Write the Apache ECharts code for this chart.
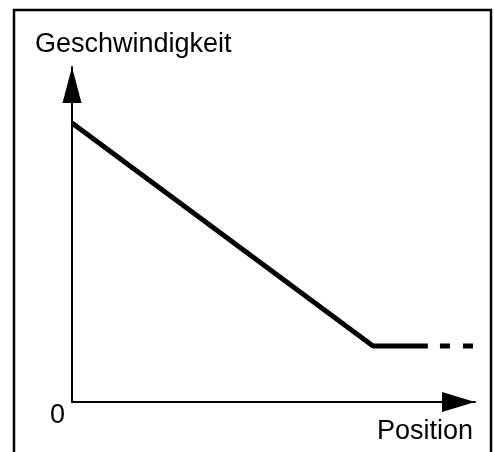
<!DOCTYPE html>
<html>
<head>
<meta charset="utf-8">
<script src="https://cdn.jsdelivr.net/npm/echarts@6/dist/echarts.min.js"></script>
<style>
  html, body { margin: 0; padding: 0; background: #fff; }
  #chart { width: 494px; height: 452px; }
</style>
</head>
<body>
<div id="chart"></div>
<script>
// Geschwindigkeit über Position (schematisch)
const solidPos = [0, 74.7, 88.3];
const solidSpeed = [83.3, 16.7, 16.7];
const dashPos = [91.3, 100];
const dashSpeed = [16.7, 16.7];
const yTicks = [0];

const font = '"Liberation Sans", Arial, sans-serif';

let chart = echarts.init(document.getElementById('chart'));

const option = {
  animation: false,
  title: {
    text: 'Geschwindigkeit',
    left: 35,
    top: 31,
    padding: 0,
    textStyle: {
      fontFamily: font,
      fontSize: 27,
      fontWeight: 'normal',
      color: '#000'
    }
  },
  grid: { left: 72, right: 19, top: 67, bottom: 50 },
  xAxis: {
    type: 'value',
    min: 0,
    max: 100,
    name: 'Position',
    nameLocation: 'end',
    nameGap: -2,
    nameTextStyle: {
      fontFamily: font,
      fontSize: 27,
      color: '#000',
      align: 'right',
      verticalAlign: 'top',
      padding: [16, 0, 0, 0]
    },
    axisLine: {
      lineStyle: { color: '#000', width: 2 },
      symbol: ['none', 'triangle'],
      symbolSize: [20, 33],
      symbolOffset: [0, -16.5]
    },
    axisTick: { show: false },
    axisLabel: { show: false },
    splitLine: { show: false }
  },
  yAxis: {
    type: 'value',
    min: 0,
    max: 100,
    interval: 100,
    axisLine: {
      show: true,
      lineStyle: { color: '#000', width: 2 },
      symbol: ['none', 'triangle'],
      symbolSize: [19, 36],
      symbolOffset: [0, -18]
    },
    axisTick: { show: false },
    axisLabel: {
      margin: 7,
      fontFamily: font,
      fontSize: 27,
      color: '#000',
      verticalAlign: 'top',
      formatter: (v) => yTicks.includes(v) ? String(v) : ''
    },
    splitLine: { show: false }
  },
  series: [
    {
      type: 'line',
      data: solidPos.map((x, i) => [x, solidSpeed[i]]),
      symbol: 'none',
      lineStyle: { color: '#000', width: 5 }
    },
    {
      type: 'line',
      data: dashPos.map((x, i) => [x, dashSpeed[i]]),
      symbol: 'none',
      lineStyle: { color: '#000', width: 5, type: [10, 13] }
    }
  ],
  graphic: [{
    type: 'rect',
    shape: { x: 14, y: 10, width: 477, height: 460 },
    style: { fill: 'none', stroke: '#000', lineWidth: 2.5 },
    silent: true
  }]
};

chart.setOption(option);
</script>
</body>
</html>
